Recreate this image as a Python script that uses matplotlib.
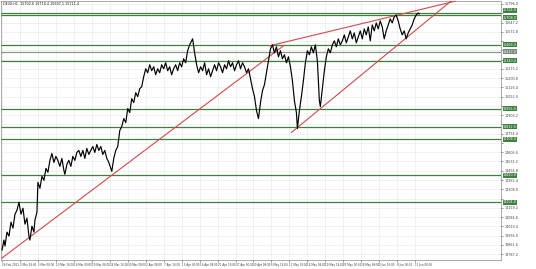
import matplotlib
matplotlib.use("Agg")
import matplotlib.pyplot as plt
import matplotlib.transforms as mtransforms

# ---- data (bar index, price) ----
bars = [0, 2, 3, 5, 7, 9, 11, 13, 15, 17, 19, 21, 23, 25, 27, 28, 30, 32, 33, 35,
        36, 38, 40, 42, 44, 46, 48, 50, 52, 54, 56, 58, 60, 62, 63, 65, 67, 69, 71, 73,
        75, 77, 79, 81, 83, 85, 87, 89, 91, 93, 95, 97, 99, 101, 103, 105, 107, 109, 110, 112,
        114, 116, 118, 120, 122, 124, 126, 128, 130, 132, 134, 136, 138, 140, 142, 144, 146, 148, 150, 152,
        154, 156, 158, 160, 162, 164, 166, 168, 170, 172, 174, 176, 178, 180, 182, 184, 186, 188, 190, 191,
        193, 195, 197, 199, 201, 203, 205, 207, 209, 211, 213, 215, 217, 219, 221, 223, 225, 227, 229, 231,
        233, 235, 237, 239, 241, 243, 245, 247, 249, 251, 253, 255, 257, 259, 261, 263, 265, 267, 269, 271,
        273, 275, 277, 279, 281, 283, 285, 287, 289, 291, 293, 295, 296, 298, 300, 302, 304, 306, 308, 310,
        312, 314, 316, 317, 318, 319, 321, 323, 325, 327, 329, 331, 333, 335, 337, 339, 341, 343, 345, 347,
        349, 351, 353, 355, 357, 359, 361, 363, 365, 367, 369, 371, 373, 375, 377, 379, 381, 383, 385, 387,
        389, 391, 393, 395, 397, 399, 401, 403, 405, 407, 409, 411, 413, 415, 417, 418]
prices = [13820, 13900, 13852, 13964, 13932, 14044, 13996, 14108, 14140, 14204, 14108, 14156, 14028, 14076, 13932, 13900, 14012, 13964, 14060, 14124,
          14364, 14316, 14412, 14380, 14476, 14444, 14540, 14596, 14524, 14572, 14540, 14492, 14556, 14460, 14428, 14508, 14540, 14492, 14572, 14540,
          14604, 14620, 14572, 14620, 14556, 14636, 14588, 14620, 14652, 14604, 14668, 14620, 14652, 14588, 14620, 14556, 14524, 14476, 14452, 14556,
          14620, 14652, 14780, 14812, 14876, 14844, 14956, 14924, 15036, 15004, 15084, 15052, 15116, 15132, 15212, 15276, 15244, 15308, 15260, 15292,
          15228, 15276, 15244, 15308, 15276, 15324, 15260, 15292, 15228, 15276, 15308, 15260, 15324, 15292, 15356, 15324, 15420, 15468, 15500, 15516,
          15404, 15308, 15244, 15292, 15260, 15324, 15228, 15276, 15212, 15260, 15308, 15260, 15324, 15292, 15244, 15308, 15276, 15340, 15292, 15324,
          15260, 15308, 15340, 15276, 15324, 15292, 15244, 15276, 15196, 15116, 15052, 14940, 14876, 15004, 15100, 15148, 15244, 15340, 15436, 15468,
          15404, 15452, 15372, 15420, 15356, 15388, 15324, 15372, 15292, 15180, 15020, 14924, 14796, 14940, 15052, 15180, 15324, 15420, 15388, 15452,
          15404, 15468, 15340, 15180, 15020, 14972, 15116, 15260, 15372, 15436, 15404, 15468, 15500, 15452, 15516, 15468, 15500, 15548, 15484, 15532,
          15580, 15516, 15564, 15484, 15532, 15580, 15516, 15596, 15548, 15612, 15500, 15628, 15580, 15644, 15596, 15660, 15612, 15516, 15580, 15628,
          15676, 15644, 15692, 15708, 15660, 15596, 15548, 15580, 15516, 15564, 15596, 15628, 15676, 15708, 15724, 15716]

# horizontal support / resistance levels
green_levels = [15724, 15708, 15468, 15340, 14956, 14812, 14708, 14420, 14204]
gray_levels = [15412]

# trend lines: (bar0, price0, bar1, price1)
trend_lines = [
    (0, 13756, 282, 15460),
    (268, 15460, 455, 15820),
    (290, 14764, 450, 15820),
]

x_tick_bars = [0, 18, 36, 54, 72, 90, 108, 126, 144, 162, 180, 198, 216, 234, 252, 270,
               288, 306, 324, 342, 360, 378, 396, 414]
x_tick_labels = ["26 Feb 2021", "2 Mar 16:00", "5 Mar 08:00", "10 Mar 16:00", "16 Mar 00:00",
                 "19 Mar 08:00", "24 Mar 16:00", "30 Mar 00:00", "2 Apr 08:00", "7 Apr 16:00",
                 "13 Apr 00:00", "16 Apr 08:00", "21 Apr 16:00", "27 Apr 00:00", "30 Apr 08:00",
                 "5 May 16:00", "11 May 00:00", "14 May 08:00", "19 May 16:00", "25 May 00:00",
                 "28 May 08:00", "2 Jun 16:00", "8 Jun 00:00", "11 Jun 08:00"]
y_ticks = [15796.0, 15721.6, 15647.2, 15572.8, 15498.4, 15424.0, 15349.6, 15275.2, 15200.8,
           15126.4, 15052.0, 14977.6, 14903.2, 14828.8, 14754.4, 14680.0, 14605.6, 14531.2,
           14456.8, 14382.4, 14308.0, 14233.6, 14159.2, 14084.8, 14010.4, 13936.0, 13861.6, 13787.2]

title_text = "DE30,H1  15702.6 15718.4 15697.1 15711.4"

# ---- drawing ----
W, H = 536, 269
fig = plt.figure(figsize=(W / 100, H / 100), dpi=100)
fig.patch.set_facecolor("white")
ax = fig.add_axes([1 / W, 9 / H, 500 / W, 259 / H])
ax.set_xlim(-1, 500)
ax.set_ylim(13740, 15820)

ax.grid(True, color="#dcdcdc", lw=0.4, ls=(0, (2, 1)))
ax.set_axisbelow(True)

for lv in green_levels:
    ax.axhline(lv, color="#3f7f3f", lw=0.9, zorder=2)
for lv in gray_levels:
    ax.axhline(lv, color="#8a9a8a", lw=0.9, zorder=2)

for b0, p0, b1, p1 in trend_lines:
    ax.plot([b0, b1], [p0, p1], color="#d24a4a", lw=0.8, zorder=3)

ax.plot(bars, prices, color="black", lw=0.85, zorder=4)

all_levels = green_levels + gray_levels
ax.set_xticks(x_tick_bars)
ax.set_xticklabels(x_tick_labels, fontsize=2.0, ha="left")
ax.set_yticks(y_ticks)
ax.set_yticklabels(["" if min(abs(v - lv) for lv in all_levels) < 36 else f"{v:.1f}"
                    for v in y_ticks], fontsize=2.4)
ax.yaxis.tick_right()
ax.tick_params(axis="both", length=1.5, width=0.4, pad=1, colors="#444444")

for sp in ax.spines.values():
    sp.set_color("#888888")
    sp.set_linewidth(0.5)

trans = mtransforms.blended_transform_factory(ax.transAxes, ax.transData)
offsets = {15724: 2.0, 15708: -2.0}
for lv in all_levels:
    fc = "#3f7f3f" if lv in green_levels else "#7a8a7a"
    off_pts = offsets.get(lv, 0.0)
    t = trans + mtransforms.ScaledTranslation(0, off_pts / 72, fig.dpi_scale_trans)
    ax.text(1.004, lv, f"{lv:.1f}", transform=t, fontsize=2.4, color="white",
            va="center", ha="left", clip_on=False, zorder=6,
            bbox=dict(boxstyle="square,pad=0.1", fc=fc, ec="none"))

ax.text(0.004, 0.995, title_text, transform=ax.transAxes, fontsize=2.4,
        va="top", ha="left", color="#222222")

fig.savefig("out.png", dpi=100)
